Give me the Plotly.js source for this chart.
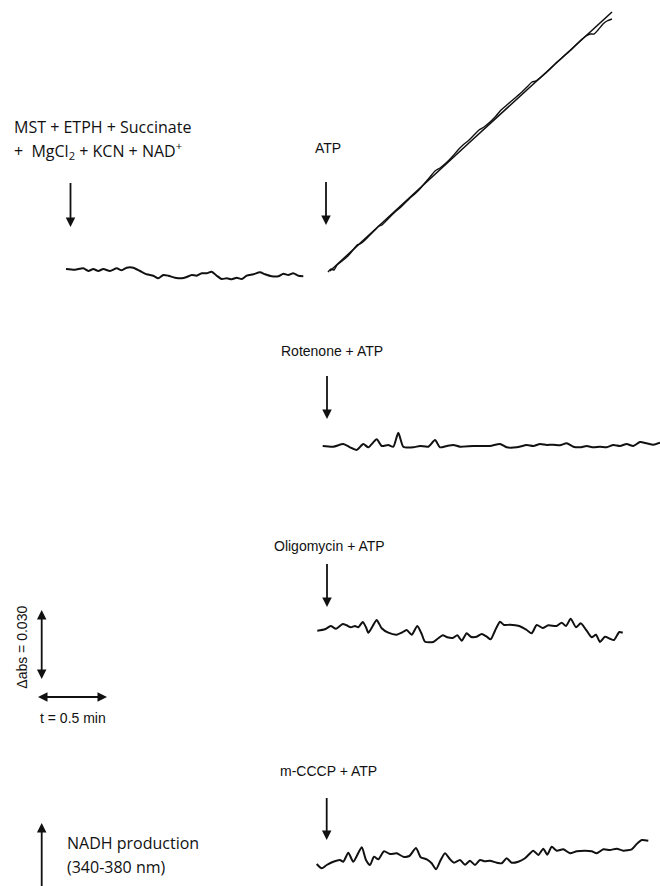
<!DOCTYPE html>
<html>
<head>
<meta charset="utf-8">
<script src="https://cdn.plot.ly/plotly-3.0.1.min.js"></script>
<style>
  html, body { margin: 0; padding: 0; background: #fff; }
  #chart { width: 660px; height: 886px; }
</style>
</head>
<body>
<div id="chart"></div>
<script>
const baseX = [66,75,83.3,88.3,93.3,98.3,103.3,110,116.7,121.7,126.7,133.3,140,146.7,153.3,158.3,163.3,168.3,175,181.7,186.7,191.7,196.7,201.7,206.7,211.7,216.7,221.7,226.7,231.7,236.7,241.7,246.7,253.3,260,265,271.7,278.3,283.3,288.3,293.3,298.3,303.3];
const baseY = [269,269.7,268.3,271,269,271,269,271,268.3,270.3,267.7,267.7,271,274.3,275.7,278.3,275,275.7,277.7,278.3,277,275,275.7,273.3,273.3,271.7,275.7,279,278.3,279.3,277.7,279,275.7,274.3,272.3,274.3,276.3,276.3,273.7,275,273.3,275.7,276.3];

const atpFitX = [330,470,612];
const atpFitY = [271,142,12];
const atpX = [328,331,334,337,342,348,353,357,360,364,370,376,379,382,388,395,402,410,418,424,430,435,440,446,452,458,463,468,474,479,484,490,496,501,508,515,522,528,532,536,540,548,556,564,572,580,586,590,594,598,603,607,612];
const atpY = [272,269,270,265,261,256,250,245,244,241,235,229,226,225,219,212,206,198,191,184,177,171,168,163,157,150,145,141,135,130,127,122,116,110,104,98,92,86,82,81,78,71,63,56,49,41,36,34,34,30,24,21,19];

const rotX = [322.7,333.3,343.3,350,356.7,363.3,368.3,376.7,381.7,388.3,393.3,398.3,403.3,413.3,420,428.3,435,440,446.7,453.3,460,473.3,490,500,506.7,516.7,526.7,533.3,540,546.7,553.3,560,566.7,573.3,580,586.7,593.3,600,606.7,613.3,620,626.7,633.3,640,646.7,653.3,660];
const rotY = [446,446.7,444,447.3,450,444,447.3,439.3,446,445,446.7,432.7,446.7,447.3,446,446.7,440,447.3,446,445,446.7,446,446,444,447.3,447.3,445,446,444,445,444.7,445.3,443.3,446.7,447.3,446,447.3,446.7,447.3,445,446,444,446,442,443.3,444.7,442.7];

const oliX = [317.3,325,330.7,336,342.7,346.7,350.7,355,358.3,362.7,366,368.3,372.7,376.7,381.7,388.3,396.7,401.7,406.7,411.7,417.3,421.7,425,433.3,438.3,442.7,447.3,452.7,457.3,461.7,466.7,470.7,476.7,481.7,486.7,490.7,495,500,504,510,519.3,526.7,531.7,536.7,542.7,548.3,556.7,561.7,566,570.7,576,580.7,586.7,591.7,596,600,605,610,614,619.3,622.7];
const oliY = [630.7,629.3,626,628.7,624,625.3,627.3,626,627.3,622,627.3,632.7,626,620,628.3,632.7,634.7,632.7,630,634.7,626,634,641.7,642,638.3,635.3,637.3,638,635.3,640.7,633.3,636.7,636.7,634,636.7,639.3,630.7,621.7,625,624.7,626,630,633.3,625,628,625.3,626,622.7,626,618.7,627.3,623.3,630.7,637.3,634.7,642,636.7,638.7,640,632,632.7];

const cccpX = [316.7,321.7,326.7,333.3,340,343.3,348.3,353.3,361.7,366,370,374,378.3,384,390,396.7,403.3,409.3,416,420.7,426.7,431.7,436,440.7,445,450,454,460,465,470,475,480,485,490,496.7,501.7,506.7,511.7,518.3,525,533.3,538.3,543.3,547.3,551.7,556.7,563.3,570,576.7,585,591.7,596.7,603.3,610,616.7,623.3,631.7,636.7,641.7,648.3];
const cccpY = [864,868.3,865,861.7,860,861.7,852.7,861.7,847.3,860,865,856.7,859.3,851.3,854,853.3,856.7,856,848,857.3,859.3,863.3,869.3,860,853.3,859.3,862.7,860,864.7,860.7,865,860,861.3,860.7,862.7,863.3,858.3,862.7,861.7,858.3,850.7,855,848.7,854.7,846.7,850.7,849.3,853.3,851.3,850.7,851.3,853.3,849.3,850,848.7,850.7,849.3,844,840,840.7];

// Addition arrows and scale bars: [tailX, tailY, tipX, tipY, doubleHeaded]
const arrowDefs = [
  [70.5, 183, 70.5, 227, false],
  [326, 182, 326, 225, false],
  [327, 376, 327, 419, false],
  [327, 564, 327, 607, false],
  [326.7, 798, 326.7, 840, false],
  [41.7, 610, 41.7, 679, true],
  [38, 697, 107, 697, true],
  [41.7, 892, 41.7, 823, false]
];

// Labels
const labels = {
  mst1: 'MST + ETPH + Succinate',
  mst2: '+\u00A0 MgCl<sub>2</sub> + KCN + NAD<sup>+</sup>',
  atp: 'ATP',
  rot: 'Rotenone + ATP',
  oli: 'Oligomycin + ATP',
  cccp: 'm-CCCP + ATP',
  dabs: '\u0394abs = 0.030',
  tmin: 't = 0.5 min',
  nadh1: 'NADH production',
  nadh2: '(340-380 nm)'
};

const ink = '#111';
function tr(x, y, w) {
  return {x: x, y: y, type: 'scatter', mode: 'lines', hoverinfo: 'skip',
          line: {color: ink, width: w || 2, shape: 'spline', smoothing: 0.6}};
}
const traces = [
  tr(baseX, baseY),
  tr(atpFitX, atpFitY, 1.6),
  tr(atpX, atpY, 1.4),
  tr(rotX, rotY),
  tr(oliX, oliY),
  tr(cccpX, cccpY)
];

function headSymbol(dx, dy) {
  if (Math.abs(dx) > Math.abs(dy)) return dx > 0 ? 'arrow-right' : 'arrow-left';
  return dy > 0 ? 'arrow-down' : 'arrow-up';
}
arrowDefs.forEach(function (a) {
  const tx = a[0], ty = a[1], hx = a[2], hy = a[3], both = a[4];
  const len = Math.hypot(hx - tx, hy - ty);
  const ux = (hx - tx) / len, uy = (hy - ty) / len;
  const back = 4;
  const sx = both ? tx + ux * back : tx, sy = both ? ty + uy * back : ty;
  traces.push({x: [sx, hx - ux * back], y: [sy, hy - uy * back], type: 'scatter', mode: 'lines',
    hoverinfo: 'skip', line: {color: ink, width: 1.8}});
  const mx = [hx], my = [hy], ms = [headSymbol(hx - tx, hy - ty)];
  if (both) { mx.push(tx); my.push(ty); ms.push(headSymbol(tx - hx, ty - hy)); }
  traces.push({x: mx, y: my, type: 'scatter', mode: 'markers', hoverinfo: 'skip',
    marker: {symbol: ms, size: 9.5, color: ink, line: {width: 0}}});
});

const sans = 'Liberation Sans, Arial, sans-serif';
const human = 'Open Sans, Noto Sans, sans-serif';
function txt(x, y, text, font, size, xanchor, extra) {
  return Object.assign({x: x, y: y, xref: 'x', yref: 'y', text: text, showarrow: false,
    xanchor: xanchor || 'center', yanchor: 'middle',
    font: {family: font, size: size, color: ink}}, extra || {});
}

const annotations = [
  txt(12, 127, labels.mst1, human, 16, 'left'),
  txt(12, 150, labels.mst2, human, 16, 'left'),
  txt(327.5, 148, labels.atp, sans, 14),
  txt(332, 351, labels.rot, sans, 14),
  txt(329, 546, labels.oli, sans, 14),
  txt(328, 771, labels.cccp, sans, 14),
  txt(21.7, 647, labels.dabs, sans, 14, 'center', {textangle: -90}),
  txt(73, 718, labels.tmin, sans, 14),
  txt(65, 843, labels.nadh1, human, 16, 'left'),
  txt(65, 867, labels.nadh2, human, 16, 'left')
];

const layout = {
  width: 660, height: 886,
  margin: {l: 0, r: 0, t: 0, b: 0},
  paper_bgcolor: '#fff', plot_bgcolor: '#fff',
  showlegend: false,
  xaxis: {range: [0, 660], visible: false, fixedrange: true},
  yaxis: {range: [886, 0], visible: false, fixedrange: true},
  annotations: annotations
};
Plotly.newPlot('chart', traces, layout, {staticPlot: true, displayModeBar: false});
</script>
</body>
</html>
